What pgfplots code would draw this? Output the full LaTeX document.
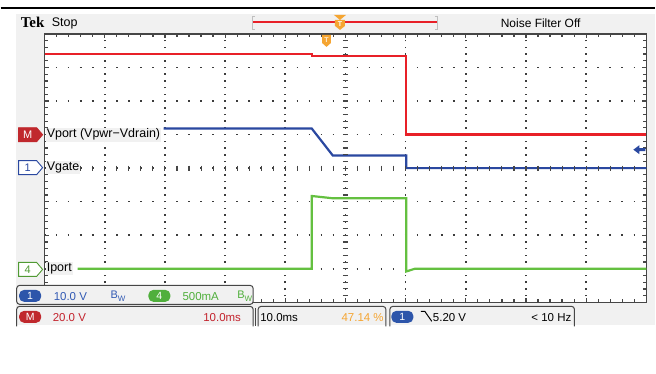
\documentclass[border=0pt]{standalone}
\usepackage{fontspec}
\setmainfont{Liberation Sans}
\newfontfamily\tekfont{Liberation Serif}
\usepackage{pgfplots}
\pgfplotsset{compat=1.18}

\definecolor{trRed}{RGB}{232,32,40}
\definecolor{trBlue}{RGB}{42,72,160}
\definecolor{trGreen}{RGB}{100,192,64}
\definecolor{panel}{RGB}{241,241,241}
\definecolor{frameC}{RGB}{70,70,70}
\definecolor{gridC}{RGB}{60,60,60}
\definecolor{tagRed}{RGB}{192,40,45}
\definecolor{txtBlue}{RGB}{50,90,180}
\definecolor{pillBlue}{RGB}{45,85,170}
\definecolor{txtGreen}{RGB}{80,175,60}
\definecolor{txtRed}{RGB}{195,35,45}
\definecolor{tekOrange}{RGB}{245,165,50}

% channel tag at the left edge: y, fill, draw, text colour, text
\newcommand{\chtag}[5]{%
  \filldraw[fill=#2, draw=#3, line width=0.9pt]
    (18,{#1-7}) -- (36,{#1-7}) -- (42,#1) -- (36,{#1+7}) -- (18,{#1+7}) -- cycle;
  \node[text=#4, font=\fontsize{11}{12}\selectfont] at (27,#1) {#5};}
% small rounded pill: x centre, y centre, colour, text
\newcommand{\pill}[4]{%
  \fill[#3, rounded corners=5pt] ({#1-11},{#2-6}) rectangle ({#1+11},{#2+6});
  \node[text=white, font=\fontsize{10.5}{12}\selectfont] at (#1,#2) {#4};}

\begin{document}
\begin{tikzpicture}
\begin{scope}[x=1pt,y=-1pt]
  \fill[white] (0,0) rectangle (656,374);
  \fill[panel] (15,14) rectangle (656,326);
  \draw[line width=1.4pt, black] (0,8) -- (656,8);
\end{scope}

\begin{axis}[
  at={(44pt,-303pt)}, anchor=south west,
  scale only axis, width=603pt, height=269pt,
  xmin=0, xmax=10, ymin=0, ymax=8,
  xtick={0,1,...,10}, ytick={0,1,...,8},
  minor x tick num=4, minor y tick num=4,
  xticklabels={}, yticklabels={},
  tick align=inside,
  major tick length=4pt, minor tick length=3pt,
  every tick/.style={line width=1.2pt, color=frameC},
  xmajorgrids, ymajorgrids,
  x grid style={line width=1.6pt, color=gridC, dash pattern=on 1.6pt off 5.125pt, dash phase=0.8pt},
  y grid style={line width=1.6pt, color=gridC, dash pattern=on 1.6pt off 10.46pt, dash phase=0.8pt},
  axis line style={line width=1.5pt, color=frameC},
  axis background/.style={fill=white},
]
  % M: Vport (Vpwr - Vdrain)
  \addplot[trRed, line width=2.2pt] coordinates {
    (0,7.41) (4.45,7.41) (4.45,7.35) (6.01,7.35) (6.01,5.0) (10,5.0)};
  % ch1: Vgate
  \addplot[trBlue, line width=2.2pt] coordinates {
    (1.98,5.18) (4.44,5.18) (4.79,4.375) (6.01,4.375) (6.01,4.0) (10,4.0)};
  % ch4: Iport
  \addplot[trGreen, line width=2.2pt] coordinates {
    (0.55,1.0) (4.44,1.0) (4.44,3.17) (4.8,3.1) (6.01,3.1) (6.01,0.92) (6.15,1.0) (10,1.0)};
\end{axis}

\begin{scope}[x=1pt,y=-1pt]
  % centre crosshair ticks
  \foreach \k in {1,...,39} \draw[frameC, line width=1.1pt] (343,{34+\k*6.725}) -- (348.5,{34+\k*6.725});
  \foreach \k in {1,...,49} \draw[frameC, line width=1.1pt] ({44+\k*12.06},166) -- ({44+\k*12.06},171.5);

  % header
  \node[anchor=west, inner sep=0pt, font=\tekfont\bfseries\fontsize{15}{16}\selectfont] at (20,22) {Tek};
  \node[anchor=west, inner sep=0pt, font=\fontsize{12.5}{14}\selectfont] at (51,23) {Stop};
  \node[anchor=west, inner sep=0pt, font=\fontsize{12}{14}\selectfont] at (501,23) {Noise Filter Off};
  \draw[gray!50, line width=0.8pt] (255,16) -- (252,16) -- (252,29) -- (255,29);
  \draw[gray!50, line width=0.8pt] (435,16) -- (438,16) -- (438,29) -- (435,29);
  \draw[trRed, line width=1.5pt] (253,22) -- (437,22);
  \fill[tekOrange] (334,15) -- (346,15) -- (340,20) -- cycle;
  \fill[tekOrange] (335,20) -- (345,20) -- (345,26) -- (340,30) -- (335,26) -- cycle;
  \node[text=white, font=\bfseries\fontsize{7}{8}\selectfont, inner sep=0pt] at (340,24) {T};
  \fill[tekOrange] (322,35) -- (331,35) -- (331,43) -- (326.5,47) -- (322,43) -- cycle;
  \node[text=white!80!tekOrange, font=\bfseries\fontsize{7}{8}\selectfont, inner sep=0pt] at (326.5,40) {T};

  % trigger level arrow at right
  \fill[trBlue] (634,150) -- (640,145.5) -- (640,148.5) -- (646,148.5) -- (646,151.5) -- (640,151.5) -- (640,154.5) -- cycle;

  % channel tags and labels
  \chtag{135}{tagRed}{tagRed}{white}{M}
  \chtag{168}{white}{trBlue}{trBlue}{1}
  \chtag{270}{white}{trGreen!80!black}{trGreen!80!black}{4}
  \node[anchor=west, fill=panel, inner sep=1pt, font=\fontsize{12.5}{14}\selectfont] at (45,135) {Vport (Vpwr−Vdrain)};
  \node[anchor=west, fill=panel, inner sep=1pt, font=\fontsize{12.5}{14}\selectfont] at (45,168) {Vgate};
  \node[anchor=west, fill=panel, inner sep=1pt, font=\fontsize{12.5}{14}\selectfont] at (45,269) {Iport};

  % status bar, row 1
  \filldraw[fill=panel, draw=frameC, line width=1pt, rounded corners=3pt] (16,286) rectangle (253,305);
  \pill{29.5}{296.5}{pillBlue}{1}
  \node[anchor=west, inner sep=0pt, text=txtBlue, font=\fontsize{11.5}{13}\selectfont] at (53,297) {10.0 V};
  \node[anchor=west, inner sep=0pt, text=txtBlue, font=\fontsize{11}{13}\selectfont] at (110,297) {B\raisebox{-2.5pt}{\fontsize{8}{9}\selectfont W}};
  \pill{159}{296.5}{txtGreen}{4}
  \node[anchor=west, inner sep=0pt, text=txtGreen, font=\fontsize{11.5}{13}\selectfont] at (182,297) {500mA};
  \node[anchor=west, inner sep=0pt, text=txtGreen, font=\fontsize{11}{13}\selectfont] at (237,297) {B\raisebox{-2.5pt}{\fontsize{8}{9}\selectfont W}};

  % status bar, row 2
  \draw[frameC, line width=1pt, rounded corners=3pt] (16,327) -- (16,307) -- (253,307) -- (253,327);
  \draw[frameC, line width=1pt] (255,309) -- (255,327);
  \draw[frameC, line width=1pt, rounded corners=3pt] (258,327) -- (258,307) -- (386,307) -- (386,327);
  \draw[frameC, line width=1pt, rounded corners=3pt] (390,327) -- (390,307) -- (575,307) -- (575,327);
  \pill{29.5}{317.5}{tagRed}{M}
  \node[anchor=west, inner sep=0pt, text=txtRed, font=\fontsize{11.5}{13}\selectfont] at (52,318) {20.0 V};
  \node[anchor=east, inner sep=0pt, text=txtRed, font=\fontsize{11.5}{13}\selectfont] at (241,318) {10.0ms};
  \node[anchor=west, inner sep=0pt, text=black, font=\fontsize{11.5}{13}\selectfont] at (260,318) {10.0ms};
  \node[anchor=east, inner sep=0pt, text=tekOrange, font=\fontsize{11.5}{13}\selectfont] at (384,318) {47.14 \%};
  \pill{402.5}{317.5}{pillBlue}{1}
  \draw[black, line width=1pt] (421,312) -- (425,312) -- (432,322);
  \node[anchor=west, inner sep=0pt, text=black, font=\fontsize{11.5}{13}\selectfont] at (433,318) {5.20 V};
  \node[anchor=east, inner sep=0pt, text=black, font=\fontsize{11.5}{13}\selectfont] at (572,318) {< 10 Hz};

  \path[use as bounding box] (0,0) rectangle (656,374);
\end{scope}
\end{tikzpicture}
\end{document}
